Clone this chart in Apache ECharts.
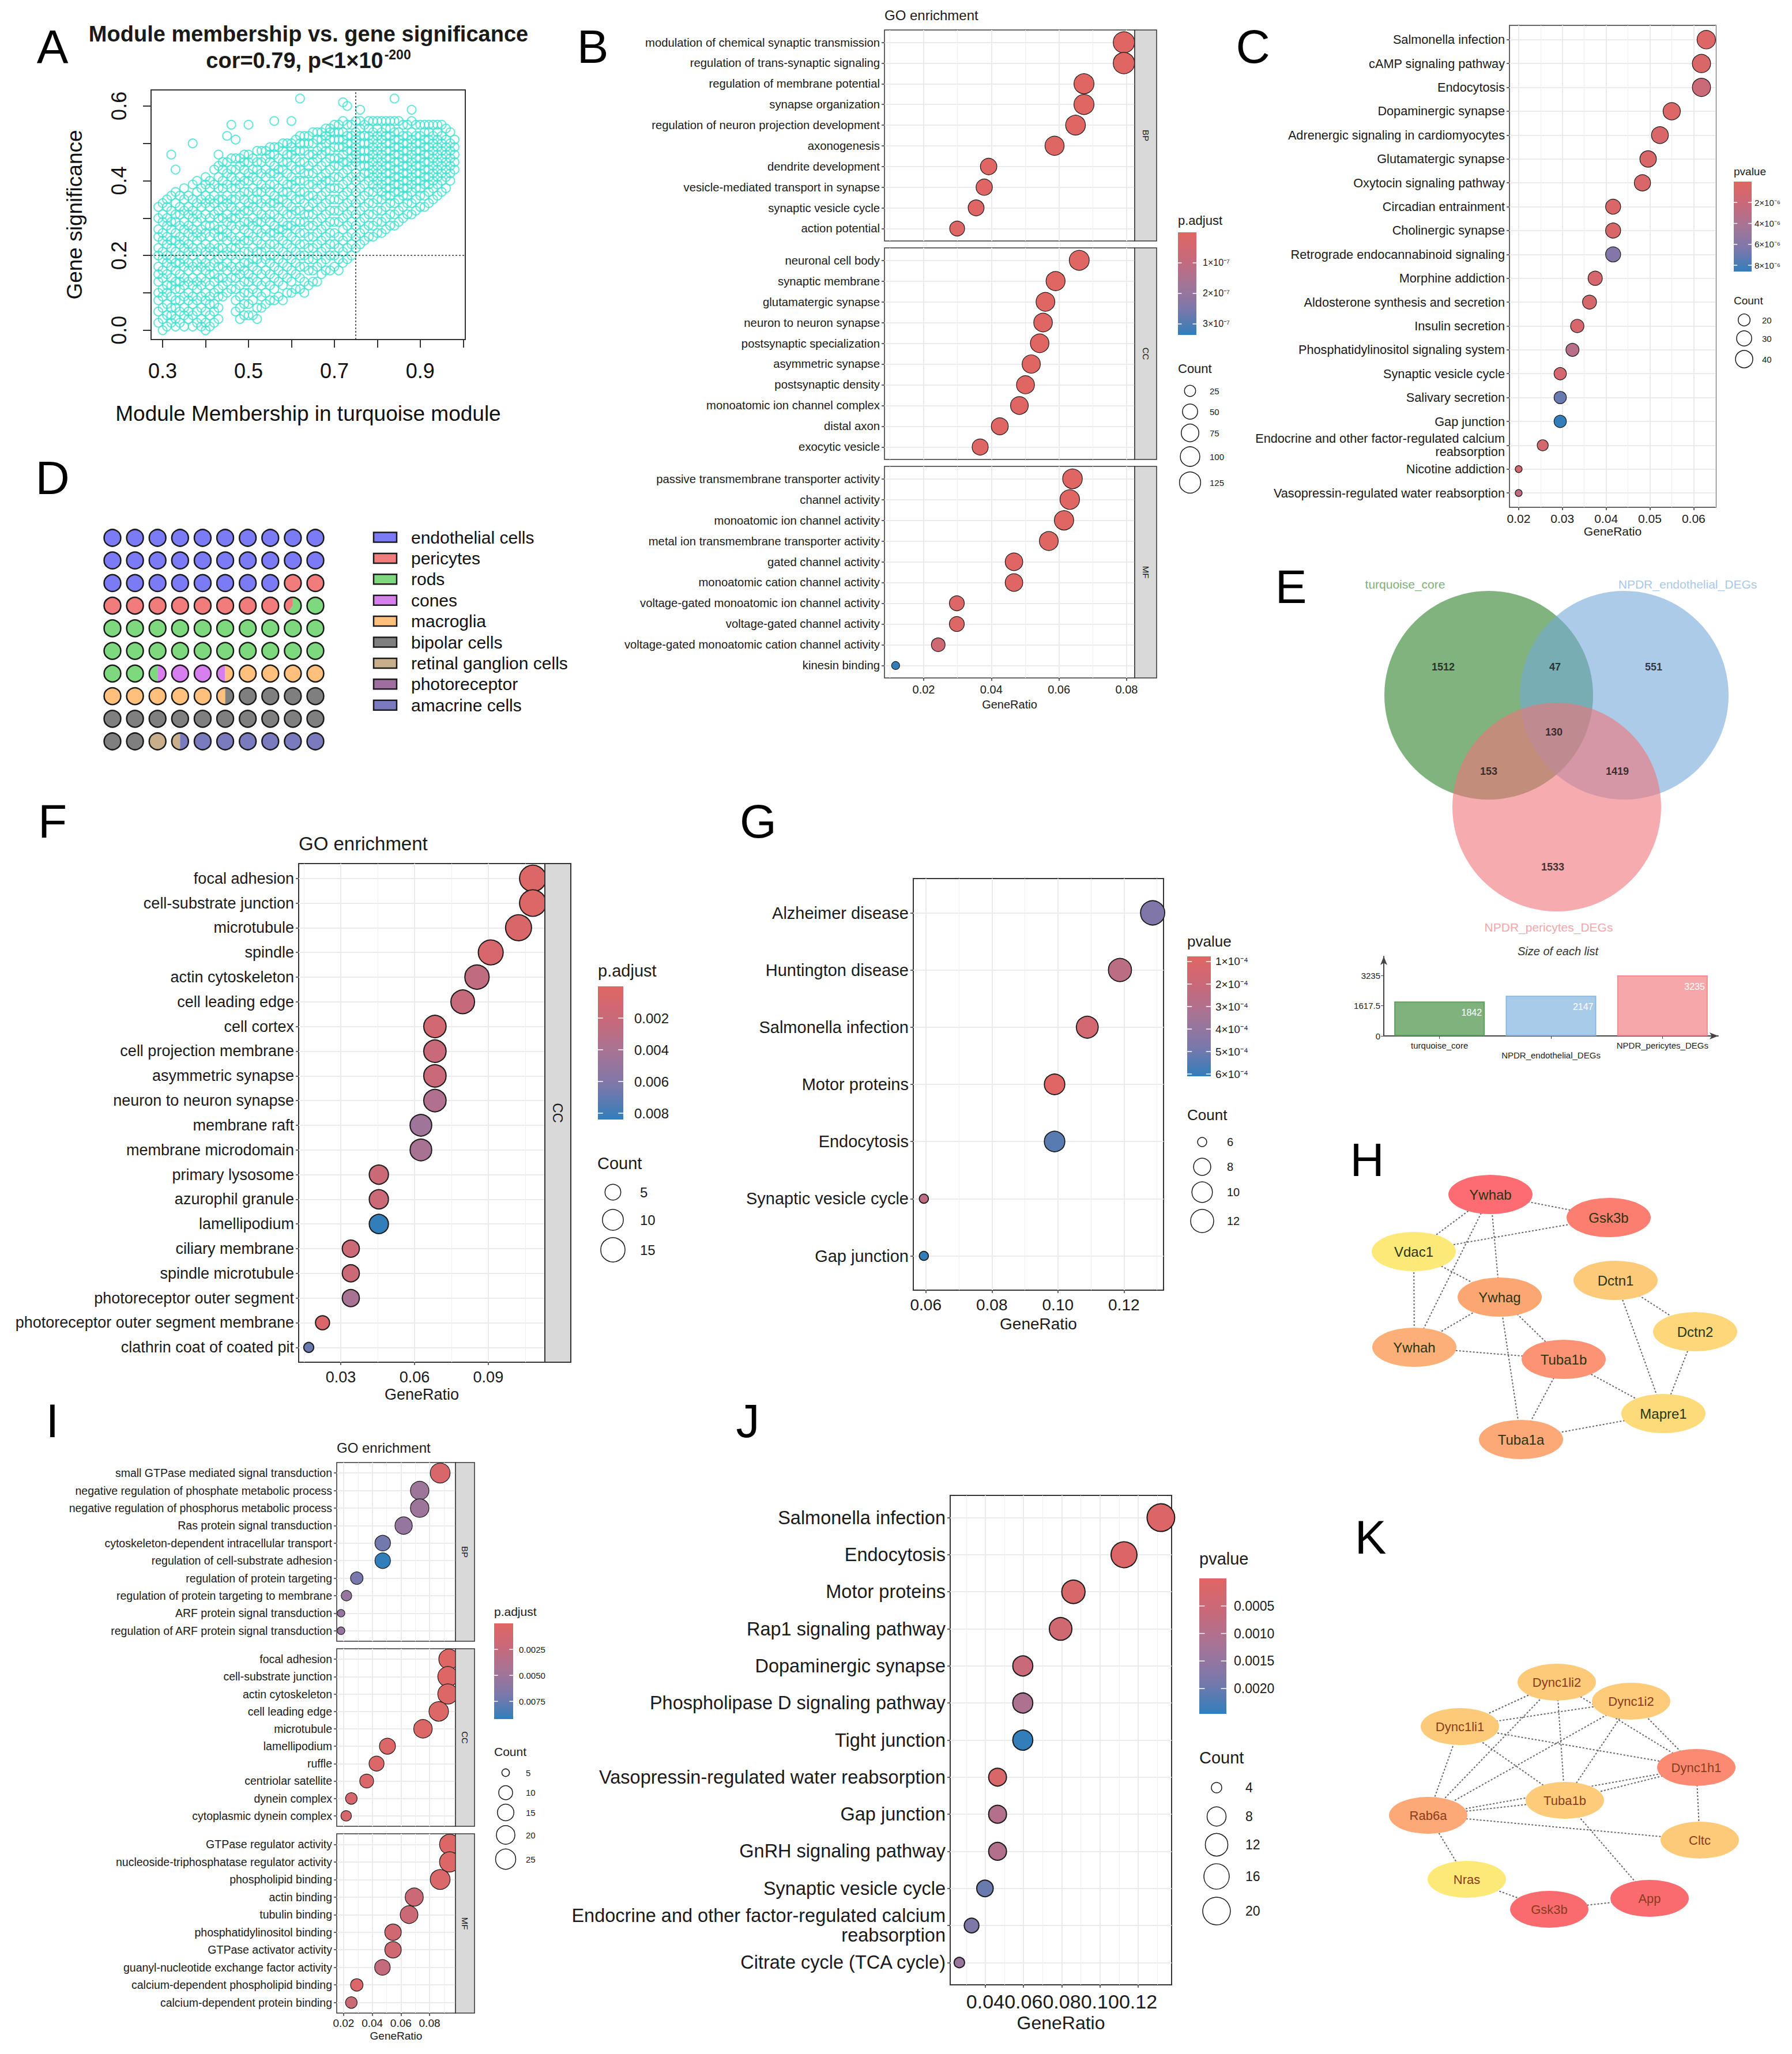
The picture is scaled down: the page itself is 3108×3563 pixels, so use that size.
<!DOCTYPE html>
<html>
<head>
<meta charset="utf-8">
<title>Figure</title>
<script src="https://cdn.jsdelivr.net/npm/echarts@6/dist/echarts.min.js"></script>
<style>
html,body{margin:0;padding:0;background:#ffffff;}
#chart{width:3108px;height:3563px;}
</style>
</head>
<body>
<div id="chart"></div>
<script>
// ======================= DATA =======================
// ---- A: Module membership vs gene significance (turquoise module) ----
const mmColumnX = [0.29,0.30,0.31,0.32,0.33,0.34,0.35,0.36,0.37,0.38,0.39,0.40,0.41,0.42,0.43,0.44,0.45,0.46,0.47,0.48,0.49,0.50,0.51,0.52,0.53,0.54,0.55,0.56,0.57,0.58,0.59,0.60,0.61,0.62,0.63,0.64,0.65,0.66,0.67,0.68,0.69,0.70,0.71,0.72,0.73,0.74,0.75,0.76,0.77,0.78,0.79,0.80,0.81,0.82,0.83,0.84,0.85,0.86,0.87,0.88,0.89,0.90,0.91,0.92,0.93,0.94,0.95,0.96,0.97,0.98];
// gene significance (x100) of genes read per membership column
const gsColumnsPct = [
[2,5,8,10,13,15,17,20,22,25,27,30,33],
[0,3,6,9,11,14,16,19,21,24,26,29,31,34],
[1,4,7,10,12,15,18,20,23,25,28,30,33,35],
[2,4,6,9,12,14,17,19,22,24,27,29,32,36,47],
[1,3,6,8,11,13,16,18,21,24,26,29,31,34,37,43],
[2,5,8,11,13,15,18,20,23,25,28,31,33,36],
[1,4,6,9,12,14,17,19,22,24,27,29,32,35,38],
[3,5,8,10,13,16,18,21,23,26,28,31,33,36],
[1,4,7,9,12,14,17,20,22,25,27,30,32,35,39,50],
[2,5,8,11,13,16,18,21,24,26,29,31,34,37,40],
[1,3,6,9,12,14,17,19,22,25,27,30,33,35,38],
[0,2,5,8,10,13,16,18,21,23,26,28,31,34,36,39,41],
[1,4,7,9,12,15,17,20,22,25,28,30,33,35,38,40],
[2,5,7,10,13,15,18,21,23,26,28,31,34,36,39,43],
[3,6,9,11,14,17,19,22,25,27,30,32,35,38,41,44,47],
[9,12,14,17,20,22,25,27,30,33,35,38,40,43,45],
[10,13,16,18,21,24,26,29,31,34,36,39,42,45,52],
[11,14,17,20,22,25,28,30,33,35,38,41,43,46,55],
[5,8,11,14,16,19,22,24,27,30,32,35,38,40,43,46,51],
[3,6,9,12,15,17,20,23,25,28,31,33,36,39,41,44,46],
[4,7,10,13,16,18,21,24,27,29,32,35,37,40,43,45,47],
[4,7,10,13,15,18,21,24,26,29,32,34,37,40,42,45,47,55],
[4,8,11,14,17,19,22,25,28,30,33,35,38,41,43,46],
[3,6,10,13,16,19,21,24,27,29,32,35,37,40,43,45,48],
[6,9,12,15,18,21,23,26,29,31,34,37,39,42,45,48],
[7,10,13,16,19,22,25,27,30,33,35,38,41,43,46,48],
[8,12,15,18,20,23,26,29,31,34,37,39,42,45,47,49],
[8,11,14,17,20,23,26,28,31,34,36,39,42,44,47,49,56],
[9,13,16,19,22,25,27,30,33,35,38,41,43,46,49],
[8,12,15,18,21,24,27,29,32,35,37,40,43,45,48,50],
[10,14,17,20,23,26,28,31,34,37,39,42,45,47,50],
[10,13,16,19,22,25,28,31,33,36,39,41,44,47,49,50,56],
[11,15,18,21,24,27,29,32,35,38,40,43,46,48,51],
[11,14,17,20,23,26,29,32,35,37,40,43,45,48,50,52,62],
[10,13,17,20,23,26,29,31,34,37,40,42,45,48,50,52],
[12,16,19,22,25,28,31,33,36,39,42,44,47,50,52],
[13,16,19,22,25,28,31,34,36,39,42,45,47,50,53],
[13,17,20,23,26,29,32,35,38,40,43,46,48,51,53],
[15,18,21,24,27,30,33,36,39,41,44,47,49,51,53],
[16,19,22,25,28,31,34,37,40,42,45,48,50,52,54],
[16,20,23,26,29,32,35,38,40,43,46,48,51,53,54],
[17,20,23,26,29,32,35,38,41,44,46,49,51,53,55],
[16,19,22,25,29,32,35,38,41,44,46,49,51,53,55],
[18,21,24,27,30,33,36,39,42,45,47,49,51,53,56,61],
[19,22,25,28,31,34,37,40,43,45,48,50,52,55,60],
[20,23,26,29,32,35,38,41,44,46,48,50,52,55],
[22,25,28,31,34,37,40,42,45,47,49,51,53,56],
[23,26,29,32,35,38,41,44,46,48,50,52,54,56,59],
[24,27,30,33,36,39,42,44,46,48,50,52,55],
[25,28,31,34,37,40,42,44,46,48,50,52,54,56],
[25,28,31,34,37,39,41,43,45,47,49,51,53,56],
[26,29,32,35,38,40,42,44,46,48,50,52,54,56],
[26,29,32,35,37,39,41,43,45,47,49,51,53,56],
[27,30,33,36,38,40,42,44,46,48,50,52,54,56],
[28,31,34,36,38,40,42,44,46,48,50,52,54,56],
[28,31,34,37,39,41,43,45,47,49,51,53,56,62],
[29,32,35,37,39,41,43,45,47,49,51,53,56],
[30,33,36,38,40,42,44,46,48,50,52,55],
[31,34,36,38,40,42,44,46,48,50,52,55],
[31,34,37,39,41,43,45,47,49,51,53,56,59],
[32,35,38,40,42,44,46,48,50,52,55],
[33,36,38,40,42,44,46,48,50,52,55],
[33,36,39,41,43,45,47,49,51,53,55],
[34,37,39,41,43,45,47,49,51,53,55],
[35,38,40,42,44,46,48,50,52,55],
[36,39,41,43,45,47,49,51,53,55],
[37,40,42,44,46,48,50,52,55],
[38,41,43,45,47,49,51,54],
[40,42,44,46,48,50,53],
[43,45,47,49,51]
];
const mmThreshold = 0.75;
const gsThreshold = 0.2;
const aXTicks = [0.3,0.4,0.5,0.6,0.7,0.8,0.9,1.0];
const aXLabels = [0.3,0.5,0.7,0.9];
const aYTicks = [0,0.1,0.2,0.3,0.4,0.5,0.6];
const aYLabels = [0,0.2,0.4,0.6];

// ---- B: GO enrichment (BP / CC / MF) ----
const bBPTerms = ['modulation of chemical synaptic transmission','regulation of trans-synaptic signaling','regulation of membrane potential','synapse organization','regulation of neuron projection development','axonogenesis','dendrite development','vesicle-mediated transport in synapse','synaptic vesicle cycle','action potential'];
const bBPRatio = [0.0792,0.0792,0.0674,0.0674,0.0649,0.0587,0.0392,0.0379,0.0355,0.0299];
const bBPCount = [127,127,108,108,104,94,63,61,57,48];
const bBPPadj = [1e-10,1e-10,3e-10,4e-10,5e-10,1e-9,3e-9,4e-9,5e-9,8e-9];
const bCCTerms = ['neuronal cell body','synaptic membrane','glutamatergic synapse','neuron to neuron synapse','postsynaptic specialization','asymmetric synapse','postsynaptic density','monoatomic ion channel complex','distal axon','exocytic vesicle'];
const bCCRatio = [0.0660,0.0590,0.0560,0.0553,0.0543,0.0518,0.0501,0.0483,0.0425,0.0367];
const bCCCount = [106,94,90,88,87,83,80,77,68,59];
const bCCPadj = [2e-10,3e-10,4e-10,5e-10,6e-10,8e-10,9e-10,1e-9,3e-9,6e-9];
const bMFTerms = ['passive transmembrane transporter activity','channel activity','monoatomic ion channel activity','metal ion transmembrane transporter activity','gated channel activity','monoatomic cation channel activity','voltage-gated monoatomic ion channel activity','voltage-gated channel activity','voltage-gated monoatomic cation channel activity','kinesin binding'];
const bMFRatio = [0.0640,0.0632,0.0615,0.0570,0.0467,0.0467,0.0298,0.0298,0.0243,0.0117];
const bMFCount = [102,101,98,91,75,75,48,48,39,19];
const bMFPadj = [2e-10,2e-10,3e-10,5e-10,2e-9,3e-9,1e-8,1.2e-8,6e-8,3.36e-7];
const bXTicks = [0.02,0.04,0.06,0.08];
const bPadjTicks = [1e-7,2e-7,3e-7];
const bPadjLabels = ['1×10⁻⁷','2×10⁻⁷','3×10⁻⁷'];
const bCountBreaks = [25,50,75,100,125];

// ---- C: KEGG enrichment ----
const cTerms = ['Salmonella infection','cAMP signaling pathway','Endocytosis','Dopaminergic synapse','Adrenergic signaling in cardiomyocytes','Glutamatergic synapse','Oxytocin signaling pathway','Circadian entrainment','Cholinergic synapse','Retrograde endocannabinoid signaling','Morphine addiction','Aldosterone synthesis and secretion','Insulin secretion','Phosphatidylinositol signaling system','Synaptic vesicle cycle','Salivary secretion','Gap junction','Endocrine and other factor-regulated calcium\nreabsorption','Nicotine addiction','Vasopressin-regulated water reabsorption'];
const cRatio = [0.0629,0.0618,0.0618,0.0550,0.0523,0.0496,0.0483,0.0416,0.0416,0.0416,0.0375,0.0362,0.0334,0.0323,0.0295,0.0295,0.0295,0.0255,0.0200,0.0200];
const cCount = [46,45,45,40,38,36,35,30,30,30,27,26,24,23,21,21,21,18,14,14];
const cPvalue = [0.3e-6,0.5e-6,2.0e-6,0.4e-6,0.6e-6,0.5e-6,0.7e-6,0.5e-6,0.6e-6,6.0e-6,0.8e-6,0.9e-6,0.8e-6,3.2e-6,1.0e-6,7.0e-6,8.6e-6,1.1e-6,1.3e-6,2.6e-6];
const cXTicks = [0.02,0.03,0.04,0.05,0.06];
const cPTicks = [2e-6,4e-6,6e-6,8e-6];
const cPLabels = ['2×10⁻⁶','4×10⁻⁶','6×10⁻⁶','8×10⁻⁶'];
const cCountBreaks = [20,30,40];

// ---- D: cell type composition (waffle, units of 100) ----
const cellTypes = ['endothelial cells','pericytes','rods','cones','macroglia','bipolar cells','retinal ganglion cells','photoreceptor','amacrine cells'];
const cellTypeUnits = [28,10.4,24.1,3.0,10.0,16.5,1.5,0,6.5];

// ---- E: Venn ----
const vennSets = ['turquoise_core','NPDR_endothelial_DEGs','NPDR_pericytes_DEGs'];
const vennSetSizes = [1842,2147,3235];
const vennRegionCounts = [1512,47,551,130,153,1419,1533];
const eYTicks = [0,1617.5,3235];

// ---- F: GO enrichment CC ----
const fTerms = ['focal adhesion','cell-substrate junction','microtubule','spindle','actin cytoskeleton','cell leading edge','cell cortex','cell projection membrane','asymmetric synapse','neuron to neuron synapse','membrane raft','membrane microdomain','primary lysosome','azurophil granule','lamellipodium','ciliary membrane','spindle microtubule','photoreceptor outer segment','photoreceptor outer segment membrane','clathrin coat of coated pit'];
const fRatio = [0.1081,0.1081,0.1023,0.0910,0.0854,0.0796,0.0683,0.0683,0.0683,0.0683,0.0626,0.0626,0.0455,0.0455,0.0455,0.0341,0.0341,0.0341,0.0226,0.0170];
const fCount = [19,19,18,16,15,14,12,12,12,12,11,11,8,8,8,6,6,6,4,3];
const fPadj = [0.0004,0.0004,0.0006,0.0008,0.0025,0.0022,0.0012,0.0020,0.0020,0.0035,0.0045,0.0040,0.0018,0.0018,0.0084,0.0018,0.0018,0.0040,0.0006,0.0068];
const fXTicks = [0.03,0.06,0.09];
const fPTicks = [0.002,0.004,0.006,0.008];
const fPLabels = ['0.002','0.004','0.006','0.008'];
const fCountBreaks = [5,10,15];

// ---- G: KEGG ----
const gTerms = ['Alzheimer disease','Huntington disease','Salmonella infection','Motor proteins','Endocytosis','Synaptic vesicle cycle','Gap junction'];
const gRatio = [0.1287,0.1188,0.1089,0.0990,0.0990,0.0594,0.0594];
const gCount = [13,12,11,10,10,6,6];
const gPvalue = [4.6e-4,2.6e-4,1.5e-4,0.8e-4,5.4e-4,2.5e-4,6.1e-4];
const gXTicks = [0.06,0.08,0.10,0.12];
const gPTicks = [1e-4,2e-4,3e-4,4e-4,5e-4,6e-4];
const gPLabels = ['1×10⁻⁴','2×10⁻⁴','3×10⁻⁴','4×10⁻⁴','5×10⁻⁴','6×10⁻⁴'];
const gCountBreaks = [6,8,10,12];

// ---- H: PPI network ----
const hNodes = ['Ywhab','Gsk3b','Vdac1','Ywhag','Dctn1','Dctn2','Ywhah','Tuba1b','Mapre1','Tuba1a'];
const hEdges = [['Ywhab','Gsk3b'],['Ywhab','Vdac1'],['Ywhab','Ywhah'],['Ywhab','Ywhag'],['Gsk3b','Vdac1'],['Vdac1','Ywhah'],['Vdac1','Ywhag'],['Ywhag','Ywhah'],['Ywhag','Tuba1b'],['Ywhag','Tuba1a'],['Ywhah','Tuba1b'],['Tuba1b','Tuba1a'],['Tuba1b','Mapre1'],['Dctn1','Dctn2'],['Dctn1','Mapre1'],['Dctn2','Mapre1'],['Tuba1a','Mapre1']];

// ---- I: GO enrichment (BP / CC / MF) ----
const iBPTerms = ['small GTPase mediated signal transduction','negative regulation of phosphate metabolic process','negative regulation of phosphorus metabolic process','Ras protein signal transduction','cytoskeleton-dependent intracellular transport','regulation of cell-substrate adhesion','regulation of protein targeting','regulation of protein targeting to membrane','ARF protein signal transduction','regulation of ARF protein signal transduction'];
const iBPRatio = [0.0874,0.0731,0.0731,0.0619,0.0473,0.0473,0.0292,0.0220,0.0182,0.0182];
const iBPCount = [24,20,20,17,13,13,8,6,5,5];
const iBPPadj = [0.0008,0.0050,0.0050,0.0055,0.0072,0.0092,0.0070,0.0055,0.0055,0.0055];
const iCCTerms = ['focal adhesion','cell-substrate junction','actin cytoskeleton','cell leading edge','microtubule','lamellipodium','ruffle','centriolar satellite','dynein complex','cytoplasmic dynein complex'];
const iCCRatio = [0.0935,0.0928,0.0928,0.0864,0.0754,0.0506,0.0430,0.0361,0.0254,0.0218];
const iCCCount = [25,25,25,23,20,14,12,10,7,6];
const iCCPadj = [0.0002,0.0002,0.0003,0.0004,0.0004,0.0005,0.0005,0.0006,0.0010,0.0008];
const iMFTerms = ['GTPase regulator activity','nucleoside-triphosphatase regulator activity','phospholipid binding','actin binding','tubulin binding','phosphatidylinositol binding','GTPase activator activity','guanyl-nucleotide exchange factor activity','calcium-dependent phospholipid binding','calcium-dependent protein binding'];
const iMFRatio = [0.0940,0.0940,0.0874,0.0693,0.0657,0.0545,0.0545,0.0471,0.0292,0.0254];
const iMFCount = [25,25,24,19,18,15,15,13,8,7];
const iMFPadj = [0.0003,0.0003,0.0006,0.0020,0.0020,0.0015,0.0015,0.0025,0.0005,0.0020];
const iXTicks = [0.02,0.04,0.06,0.08];
const iPTicks = [0.0025,0.005,0.0075];
const iPLabels = ['0.0025','0.0050','0.0075'];
const iCountBreaks = [5,10,15,20,25];

// ---- J: KEGG ----
const jTerms = ['Salmonella infection','Endocytosis','Motor proteins','Rap1 signaling pathway','Dopaminergic synapse','Phospholipase D signaling pathway','Tight junction','Vasopressin-regulated water reabsorption','Gap junction','GnRH signaling pathway','Synaptic vesicle cycle','Endocrine and other factor-regulated calcium\nreabsorption','Citrate cycle (TCA cycle)'];
const jRatio = [0.1319,0.1126,0.0861,0.0794,0.0596,0.0596,0.0596,0.0464,0.0464,0.0464,0.0398,0.0328,0.0264];
const jCount = [20,17,13,12,9,9,9,7,7,7,6,5,4];
const jPvalue = [0.0001,0.0001,0.0002,0.0004,0.0006,0.0011,0.00246,0.0002,0.0010,0.0010,0.0020,0.0018,0.0014];
const jXTicks = [0.04,0.06,0.08,0.10,0.12];
const jPTicks = [0.0005,0.001,0.0015,0.002];
const jPLabels = ['0.0005','0.0010','0.0015','0.0020'];
const jCountBreaks = [4,8,12,16,20];

// ---- K: PPI network ----
const kNodes = ['Dync1li2','Dync1i2','Dync1li1','Dync1h1','Tuba1b','Rab6a','Cltc','Nras','Gsk3b','App'];
const kEdges = [['Dync1li2','Dync1li1'],['Dync1li2','Rab6a'],['Dync1li2','Tuba1b'],['Dync1li2','Dync1h1'],['Dync1i2','Dync1li1'],['Dync1i2','Rab6a'],['Dync1i2','Tuba1b'],['Dync1i2','Dync1h1'],['Dync1li1','Dync1h1'],['Dync1li1','Tuba1b'],['Dync1li1','Rab6a'],['Dync1h1','Tuba1b'],['Dync1h1','Cltc'],['Rab6a','Tuba1b'],['Rab6a','Cltc'],['Rab6a','Dync1h1'],['Rab6a','Nras'],['Nras','Gsk3b'],['Gsk3b','App'],['Tuba1b','App']];

// ======================= STYLE / LAYOUT =======================
const FONT = '"Liberation Sans", Arial, Helvetica, sans-serif';
const TXT = '#1a1a1a';
const PAL = ['#e06663','#c8697a','#a57496','#7b78ab','#327eba'];
const cellTypeColors = ['#7b7bf5','#f27b7b','#7ed87e','#d77fee','#ffc07e','#7f7f7f','#c9ae8b','#9e6f9e','#7a7abf'];
const vennFill = ['rgba(44,128,40,0.6)','rgba(117,168,217,0.6)','rgba(240,115,122,0.6)'];
const vennTextColor = ['#7fb07a','#a9c9e8','#f4a6aa'];
const eBarFill = ['#80b27d','#a9cbea','#f5a7aa'];
const eBarStroke = ['#5e9e5b','#8ab8e2','#f08c91'];
const hColors = ['#fc6c72','#fb7e71','#fde977','#fca672','#fdca7a','#fdd77a','#fcb077','#fb9374','#fddb7a','#fca877'];
const kColors = ['#fdca7a','#fdcb7a','#fdca7a','#fb8a72','#fdcc7a','#fca977','#fdca7a','#fde977','#fa6b70','#fa6b70'];
// network layouts (layout units)
const hLayout = [[21.5,4.2],[42.0,8.2],[8.2,14.1],[23.1,22.0],[43.2,19.1],[57.0,28.0],[8.3,30.7],[34.2,32.8],[51.5,42.2],[26.8,46.7]];
const kLayout = [[33.0,3.8],[45.9,7.1],[16.2,11.5],[57.2,18.6],[34.4,24.3],[10.7,26.9],[57.8,31.2],[17.4,38.0],[31.7,43.2],[49.1,41.3]];
// venn layout (grid units)
const vennCircleLayout = [[252,206],[487,206],[370,400]];
const vennRadius = 181;
const vennRegionLayout = [[173,157],[367,157],[538,157],[365,270],[252,338],[475,338],[363,504]];

const grids=[], xAxes=[], yAxes=[], series=[], visualMaps=[], G=[];
function addGrid(g, xa, ya){
  const i=grids.length;
  grids.push(Object.assign({containLabel:false, outerBoundsMode:'none'}, g));
  xAxes.push(Object.assign({gridIndex:i}, xa));
  yAxes.push(Object.assign({gridIndex:i}, ya));
  return i;
}
function txt(x,y,text,size,style,el){
  G.push(Object.assign({type:'text', x:x, y:y, z:50, style:Object.assign({text:text, fontSize:size, fontFamily:FONT, fill:TXT, align:'left', verticalAlign:'middle'}, style||{})}, el||{}));
}
function makeSize(cMin,cMax,dMax){
  return c => dMax*(0.375+0.625*Math.sqrt(Math.max(0,c-cMin)/(cMax-cMin)));
}
function dotPanel(P){
  const sIdx=[];
  P.facets.forEach((f,fi)=>{
    const last = fi===P.facets.length-1;
    const n=f.terms.length, idx=f.terms.map((t,i)=>i);
    const gi = addGrid(
      {left:P.left, top:f.top, width:P.right-P.left, height:f.bottom-f.top, show:true, borderColor:'#333333', borderWidth:P.bw||1.5, backgroundColor:'#ffffff'},
      {type:'value', min:P.xMin, max:P.xMax, splitNumber:P.splitNumber,
       axisLine:{show:false, onZero:false},
       axisTick:{show:last, customValues:P.xTicks, length:5, lineStyle:{color:'#333333', width:1.5}},
       axisLabel:{show:last, customValues:P.xTicks, formatter:v=>v.toFixed(2), fontSize:P.tickSize, color:TXT, margin:P.xMargin, fontFamily:FONT},
       splitLine:{show:true, lineStyle:{color:'#EBEBEB', width:P.gridW||2}},
       minorTick:{show:false, splitNumber:2},
       minorSplitLine:{show:true, lineStyle:{color:'#EFEFEF', width:1}},
       name:last?'GeneRatio':'', nameLocation:'middle', nameGap:P.nameGap,
       nameTextStyle:{fontSize:P.nameSize||P.tickSize, color:TXT, fontFamily:FONT}},
      {type:'value', inverse:true, min:-0.6, max:n-0.4, minInterval:1, maxInterval:1,
       axisLine:{show:false, onZero:false},
       axisTick:{show:true, customValues:idx, length:5, lineStyle:{color:'#333333', width:1.5}},
       axisLabel:{customValues:idx, formatter:v=>f.terms[Math.round(v)], fontSize:P.labelSize, color:TXT, margin:P.yMargin||8, fontFamily:FONT, lineHeight:Math.round(P.labelSize*1.05), align:'right'},
       splitLine:{show:true, lineStyle:{color:'#EBEBEB', width:P.gridW||2}}});
    sIdx.push(series.length);
    series.push({type:'scatter', xAxisIndex:gi, yAxisIndex:gi, z:3, silent:true, animation:false,
      data:f.terms.map((t,i)=>[f.ratio[i], i, f.count[i], f.p[i]]),
      symbolSize:v=>P.size(v[2]),
      itemStyle:{borderColor:'#1a1a1a', borderWidth:P.dotBW||1.2, opacity:1}});
    if(P.strip){
      G.push({type:'rect', z:60, shape:{x:P.right, y:f.top, width:P.strip, height:f.bottom-f.top}, style:{fill:'#D9D9D9', stroke:'#333333', lineWidth:P.bw||1.5}});
      G.push({type:'text', z:61, x:P.right+P.strip/2, y:(f.top+f.bottom)/2, rotation:-Math.PI/2, style:{text:f.name, fontSize:P.stripSize, fontFamily:FONT, fill:TXT, align:'center', verticalAlign:'middle'}});
    }
  });
  visualMaps.push({type:'continuous', show:false, seriesIndex:sIdx, dimension:3, min:P.pMin, max:P.pMax, inRange:{color:PAL}});
}
function colorbar(L){
  txt(L.x, L.titleY, L.title, L.titleSize);
  G.push({type:'rect', z:50, shape:{x:L.x, y:L.y, width:L.w, height:L.h},
    style:{fill:{type:'linear', x:0, y:0, x2:0, y2:1, colorStops:PAL.map((c,i)=>({offset:i/(PAL.length-1), color:c}))}}});
  L.ticks.forEach((t,i)=>{
    const ty=L.y+(t-L.vmin)/(L.vmax-L.vmin)*L.h;
    G.push({type:'line', z:51, shape:{x1:L.x, y1:ty, x2:L.x+L.w*0.2, y2:ty}, style:{stroke:'#ffffff', lineWidth:1.5}});
    G.push({type:'line', z:51, shape:{x1:L.x+L.w*0.8, y1:ty, x2:L.x+L.w, y2:ty}, style:{stroke:'#ffffff', lineWidth:1.5}});
    txt(L.labelX, ty, L.labels[i], L.labelSize);
  });
}
function sizeLegend(L){
  txt(L.x, L.titleY, 'Count', L.titleSize);
  L.values.forEach((c,i)=>{
    const cy=L.ys[i];
    G.push({type:'circle', z:50, shape:{cx:L.cx, cy:cy, r:L.size(c)/2}, style:{fill:'none', stroke:TXT, lineWidth:1.5}});
    txt(L.labelX, cy, String(c), L.labelSize);
  });
}

// ---------- Panel A ----------
const aPoints=[];
mmColumnX.forEach((x,i)=>{ (gsColumnsPct[i]||[]).forEach(y=>aPoints.push([x, y/100])); });
const gA = addGrid({left:262, top:156, width:545, height:433, show:true, borderColor:'#333333', borderWidth:2, backgroundColor:'#ffffff'},
  {type:'value', min:0.273, max:1.005, axisLine:{show:false, onZero:false},
   axisTick:{customValues:aXTicks, length:14, lineStyle:{color:'#333333', width:2}},
   axisLabel:{customValues:aXLabels, formatter:v=>v.toFixed(1), fontSize:36, color:'#111', margin:36, fontFamily:FONT},
   splitLine:{show:false},
   name:'Module Membership in turquoise module', nameLocation:'middle', nameGap:110, nameTextStyle:{fontSize:37, color:'#111', fontFamily:FONT}},
  {type:'value', min:-0.025, max:0.643, axisLine:{show:false, onZero:false},
   axisTick:{customValues:aYTicks, length:14, lineStyle:{color:'#333333', width:2}},
   axisLabel:{customValues:aYLabels, rotate:90, formatter:v=>v.toFixed(1), fontSize:36, color:'#111', margin:38, fontFamily:FONT},
   splitLine:{show:false},
   name:'Gene significance', nameLocation:'middle', nameGap:114, nameTextStyle:{fontSize:37, color:'#111', fontFamily:FONT}});
series.push({type:'scatter', xAxisIndex:gA, yAxisIndex:gA, data:aPoints, symbol:'circle', symbolSize:15, silent:true, progressive:0, animation:false,
  itemStyle:{color:'rgba(0,0,0,0)', borderColor:'#40E0D0', borderWidth:2},
  markLine:{silent:true, symbol:'none', animation:false, label:{show:false}, lineStyle:{type:[3,3], color:'#333333', width:1.6},
    data:[{xAxis:mmThreshold},{yAxis:gsThreshold}]}});
txt(535, 59, 'Module membership vs. gene significance', 38, {fontWeight:'bold', align:'center'});
G.push({type:'text', x:535, y:105, z:50, style:{text:'{b|cor=0.79, p<1×10}{s|-200}', align:'center', verticalAlign:'middle',
  rich:{b:{fontSize:38, fontWeight:'bold', fontFamily:FONT, fill:TXT, lineHeight:44},
        s:{fontSize:23, fontWeight:'bold', fontFamily:FONT, fill:TXT, verticalAlign:'top', lineHeight:44, padding:[0,0,18,2]}}}});

// ---------- Panel B ----------
dotPanel({left:1534, right:1968, strip:38, stripSize:15,
  facets:[{name:'BP', top:52, bottom:418, terms:bBPTerms, ratio:bBPRatio, count:bBPCount, p:bBPPadj},
          {name:'CC', top:430, bottom:797, terms:bCCTerms, ratio:bCCRatio, count:bCCCount, p:bCCPadj},
          {name:'MF', top:809, bottom:1176, terms:bMFTerms, ratio:bMFRatio, count:bMFCount, p:bMFPadj}],
  xMin:0.0084, xMax:0.0824, splitNumber:4, xTicks:bXTicks, tickSize:20, labelSize:20.3, xMargin:10, nameGap:36,
  pMin:0, pMax:3.36e-7, size:makeSize(19,127,37)});
txt(1534, 26, 'GO enrichment', 24);
colorbar({x:2043, y:403, w:32, h:178, title:'p.adjust', titleY:382, titleSize:22, ticks:bPadjTicks, labels:bPadjLabels, vmin:0, vmax:3.36e-7, labelX:2086, labelSize:16});
sizeLegend({x:2043, titleY:639, titleSize:22, cx:2064, values:bCountBreaks, ys:[678,714,751,792,837], labelX:2098, labelSize:15, size:makeSize(19,127,37)});

// ---------- Panel C ----------
dotPanel({left:2618, right:2976, strip:0,
  facets:[{top:44, bottom:880, terms:cTerms, ratio:cRatio, count:cCount, p:cPvalue}],
  xMin:0.0179, xMax:0.0651, splitNumber:5, xTicks:cXTicks, tickSize:21, labelSize:21.7, xMargin:9, nameGap:31,
  pMin:0, pMax:8.6e-6, size:makeSize(14,46,32)});
colorbar({x:3007, y:315, w:31, h:156, title:'pvalue', titleY:297, titleSize:19, ticks:cPTicks, labels:cPLabels, vmin:0, vmax:8.6e-6, labelX:3043, labelSize:15});
sizeLegend({x:3007, titleY:521, titleSize:19, cx:3025, values:cCountBreaks, ys:[555,587,623], labelX:3056, labelSize:15, size:makeSize(14,46,32)});

// ---------- Panel D (waffle) ----------
const cum=[]; let acc=0;
cellTypeUnits.forEach(u=>{cum.push([acc,acc+u]); acc+=u;});
const waffleCells=[];
for(let k=0;k<100;k++){
  const slices=[];
  cum.forEach(([a,b],ci)=>{ const ov=Math.min(b,k+1)-Math.max(a,k); if(ov>1e-9) slices.push([ci,ov]); });
  waffleCells.push({value:[k%10, Math.floor(k/10), k], slices:slices});
}
const gD = addGrid({left:195, top:933, width:352, height:353},
  {type:'value', min:0, max:9, show:false}, {type:'value', min:0, max:9, inverse:true, show:false});
series.push({type:'custom', xAxisIndex:gD, yAxisIndex:gD, silent:true, animation:false,
  data:waffleCells.map(c=>c.value),
  renderItem:(params, api)=>{
    const k=api.value(2); const cell=waffleCells[k];
    const c=api.coord([api.value(0), api.value(1)]);
    const r=api.size([1,1])[0]*0.37;
    const ch=[];
    if(cell.slices.length===1){
      ch.push({type:'circle', shape:{cx:c[0],cy:c[1],r:r}, style:{fill:cellTypeColors[cell.slices[0][0]], stroke:'#1a1a1a', lineWidth:2.5}});
    } else {
      let end=-Math.PI/2;
      cell.slices.forEach(([ci,f])=>{
        const s=end-2*Math.PI*f;
        ch.push({type:'sector', shape:{cx:c[0],cy:c[1],r0:0,r:r,startAngle:s,endAngle:end,clockwise:true}, style:{fill:cellTypeColors[ci]}});
        end=s;
      });
      ch.push({type:'circle', shape:{cx:c[0],cy:c[1],r:r}, style:{fill:'none', stroke:'#1a1a1a', lineWidth:2.5}});
    }
    return {type:'group', children:ch};
  }});
cellTypes.forEach((t,i)=>{
  const y=932+i*36.4;
  G.push({type:'rect', z:50, shape:{x:648, y:y-8.5, width:40, height:17}, style:{fill:cellTypeColors[i], stroke:'#1a1a1a', lineWidth:2.5}});
  txt(713, y, t, 30, {fill:'#111'});
});

// ---------- Panel E (Venn + bars) ----------
const gEv = addGrid({left:2330, top:1000, width:700, height:620},
  {type:'value', min:0, max:700, show:false}, {type:'value', min:0, max:620, inverse:true, show:false});
series.push({type:'custom', xAxisIndex:gEv, yAxisIndex:gEv, silent:true, animation:false,
  data:vennSets.map((s,i)=>({name:s, value:[vennCircleLayout[i][0], vennCircleLayout[i][1], vennSetSizes[i]]})),
  renderItem:(params, api)=>{
    const c=api.coord([api.value(0), api.value(1)]);
    const r=api.size([vennRadius,0])[0];
    return {type:'circle', shape:{cx:c[0], cy:c[1], r:r}, style:{fill:vennFill[params.dataIndex]}};
  }});
series.push({type:'scatter', xAxisIndex:gEv, yAxisIndex:gEv, silent:true, animation:false, z:5,
  data:vennRegionCounts.map((v,i)=>[vennRegionLayout[i][0], vennRegionLayout[i][1], v]),
  symbolSize:1, itemStyle:{color:'rgba(0,0,0,0)'},
  label:{show:true, position:'inside', formatter:p=>String(p.value[2]), fontSize:18, fontWeight:'bold', color:'#111', fontFamily:FONT}});
txt(2437, 1013, vennSets[0], 21, {fill:vennTextColor[0], align:'center'});
txt(2927, 1013, vennSets[1], 21, {fill:vennTextColor[1], align:'center'});
txt(2686, 1608, vennSets[2], 21, {fill:vennTextColor[2], align:'center'});
txt(2702, 1650, 'Size of each list', 20, {fontStyle:'italic', align:'center', fill:'#333'});
const gEb = addGrid({left:2400, top:1659, width:580, height:138},
  {type:'category', data:vennSets,
   axisLine:{show:true, onZero:false, symbol:['none','arrow'], symbolSize:[9,15], lineStyle:{color:'#444', width:2}},
   axisTick:{show:true, alignWithLabel:true, length:5, lineStyle:{color:'#444'}},
   axisLabel:{interval:0, fontSize:15, color:'#222', margin:8, lineHeight:17, fontFamily:FONT, formatter:(v,i)=> i===1 ? '\n'+v : v}},
  {type:'value', min:0, max:4252,
   axisLine:{show:true, onZero:false, symbol:['none','arrow'], symbolSize:[9,15], lineStyle:{color:'#444', width:2}},
   axisTick:{show:true, customValues:eYTicks, length:5, lineStyle:{color:'#444'}},
   axisLabel:{customValues:eYTicks, formatter:v=>String(v), fontSize:15, color:'#222', margin:6, fontFamily:FONT},
   splitLine:{show:false}});
series.push({type:'bar', xAxisIndex:gEb, yAxisIndex:gEb, barWidth:157, silent:true, animation:false,
  data:vennSetSizes.map((v,i)=>({value:v, itemStyle:{color:eBarFill[i], borderColor:eBarStroke[i], borderWidth:2}})),
  label:{show:true, position:'insideTopRight', color:'#ffffff', fontSize:16, fontFamily:FONT, offset:[0,6]}});

// ---------- Panel F ----------
dotPanel({left:518, right:945, strip:45, stripSize:24, bw:2, dotBW:2,
  facets:[{name:'CC', top:1498, bottom:2363, terms:fTerms, ratio:fRatio, count:fCount, p:fPadj}],
  xMin:0.0129, xMax:0.113, splitNumber:3, xTicks:fXTicks, tickSize:27, labelSize:27, xMargin:12, nameGap:42,
  pMin:0, pMax:0.0084, size:makeSize(3,19,46)});
txt(518, 1463, 'GO enrichment', 33);
colorbar({x:1037, y:1711, w:44, h:231, title:'p.adjust', titleY:1684, titleSize:29, ticks:fPTicks, labels:fPLabels, vmin:0, vmax:0.0084, labelX:1100, labelSize:24});
sizeLegend({x:1036, titleY:2018, titleSize:29, cx:1063, values:fCountBreaks, ys:[2068,2116,2168], labelX:1110, labelSize:24, size:makeSize(3,19,46)});

// ---------- Panel G ----------
dotPanel({left:1584, right:2018, strip:0, bw:2, dotBW:1.8,
  facets:[{top:1524, bottom:2238, terms:gTerms, ratio:gRatio, count:gCount, p:gPvalue}],
  xMin:0.0562, xMax:0.132, splitNumber:4, xTicks:gXTicks, tickSize:28, labelSize:29, xMargin:11, nameGap:44,
  pMin:0.77e-4, pMax:6.1e-4, size:makeSize(6,13,42)});
colorbar({x:2059, y:1659, w:41, h:208, title:'pvalue', titleY:1633, titleSize:26, ticks:gPTicks, labels:gPLabels, vmin:0.77e-4, vmax:6.1e-4, labelX:2108, labelSize:19});
sizeLegend({x:2059, titleY:1934, titleSize:26, cx:2085, values:gCountBreaks, ys:[1981,2024,2068,2118], labelX:2128, labelSize:20, size:makeSize(6,13,42)});

// ---------- Panel H (network) ----------
const ELLIPSE = 'path://M0,50A50,50,0,1,1,100,50A50,50,0,1,1,0,50Z';
const gH = addGrid({left:2370, top:2030, width:640, height:500},
  {type:'value', min:0, max:64, show:false}, {type:'value', min:0, max:50, inverse:true, show:false});
series.push({type:'graph', coordinateSystem:'cartesian2d', xAxisIndex:gH, yAxisIndex:gH, layout:'none', silent:true, animation:false,
  symbol:ELLIPSE, symbolSize:[146,68],
  data:hNodes.map((n,i)=>({name:n, value:hLayout[i], itemStyle:{color:hColors[i]}})),
  links:hEdges.map(e=>({source:e[0], target:e[1]})),
  lineStyle:{color:'#666666', width:2, type:[3,3], opacity:1, curveness:0},
  label:{show:true, position:'inside', fontSize:24, color:'#2a3510', fontFamily:FONT}});

// ---------- Panel I ----------
dotPanel({left:584, right:790, strip:33, stripSize:15,
  facets:[{name:'BP', top:2537, bottom:2847, terms:iBPTerms, ratio:iBPRatio, count:iBPCount, p:iBPPadj},
          {name:'CC', top:2860, bottom:3168, terms:iCCTerms, ratio:iCCRatio, count:iCCCount, p:iCCPadj},
          {name:'MF', top:3181, bottom:3492, terms:iMFTerms, ratio:iMFRatio, count:iMFCount, p:iMFPadj}],
  xMin:0.0152, xMax:0.0981, splitNumber:4, xTicks:iXTicks, tickSize:19, labelSize:19.5, xMargin:8, nameGap:30,
  pMin:0, pMax:0.0092, size:makeSize(5,25,35)});
txt(584, 2511, 'GO enrichment', 24);
colorbar({x:857, y:2816, w:33, h:166, title:'p.adjust', titleY:2795, titleSize:21, ticks:iPTicks, labels:iPLabels, vmin:0, vmax:0.0092, labelX:900, labelSize:15});
sizeLegend({x:857, titleY:3038, titleSize:21, cx:877, values:iCountBreaks, ys:[3075,3109,3144,3183,3225], labelX:912, labelSize:15, size:makeSize(5,25,35)});

// ---------- Panel J ----------
dotPanel({left:1648, right:2032, strip:0, bw:2, dotBW:2,
  facets:[{top:2594, bottom:3443, terms:jTerms, ratio:jRatio, count:jCount, p:jPvalue}],
  xMin:0.0216, xMax:0.1375, splitNumber:5, xTicks:jXTicks, tickSize:34, nameSize:32, labelSize:32.5, xMargin:12, nameGap:50,
  pMin:0, pMax:0.00246, size:makeSize(4,20,48)});
colorbar({x:2080, y:2738, w:47, h:235, title:'pvalue', titleY:2704, titleSize:29, ticks:jPTicks, labels:jPLabels, vmin:0, vmax:0.00246, labelX:2140, labelSize:23});
sizeLegend({x:2080, titleY:3049, titleSize:29, cx:2110, values:jCountBreaks, ys:[3101,3151,3200,3255,3315], labelX:2160, labelSize:23, size:makeSize(4,20,48)});

// ---------- Panel K (network) ----------
const gK = addGrid({left:2370, top:2880, width:640, height:480},
  {type:'value', min:0, max:64, show:false}, {type:'value', min:0, max:48, inverse:true, show:false});
series.push({type:'graph', coordinateSystem:'cartesian2d', xAxisIndex:gK, yAxisIndex:gK, layout:'none', silent:true, animation:false,
  symbol:ELLIPSE, symbolSize:[136,64],
  data:kNodes.map((n,i)=>({name:n, value:kLayout[i], itemStyle:{color:kColors[i]}})),
  links:kEdges.map(e=>({source:e[0], target:e[1]})),
  lineStyle:{color:'#666666', width:2, type:[3,3], opacity:1, curveness:0},
  label:{show:true, position:'inside', fontSize:22, color:'#8a3c1c', fontFamily:FONT}});

// ---------- Panel letters ----------
const panelLetters = ['A','B','C','D','E','F','G','H','I','J','K'];
const letterLayout = [[91,80],[1028,80],[2173,80],[91,828],[2239,1017],[91,1424],[1315,1424],[2371,2011],[91,2464],[1297,2464],[2377,2666]];
panelLetters.forEach((l,i)=>txt(letterLayout[i][0], letterLayout[i][1], l, 82, {align:'center', fill:'#000'}));

// ======================= RENDER =======================
const chart = echarts.init(document.getElementById('chart'), null, {renderer:'svg', width:3108, height:3563});
chart.setOption({
  animation:false,
  backgroundColor:'#ffffff',
  textStyle:{fontFamily:FONT},
  grid:grids, xAxis:xAxes, yAxis:yAxes, series:series, visualMap:visualMaps,
  graphic:{elements:G}
});
</script>
</body>
</html>
